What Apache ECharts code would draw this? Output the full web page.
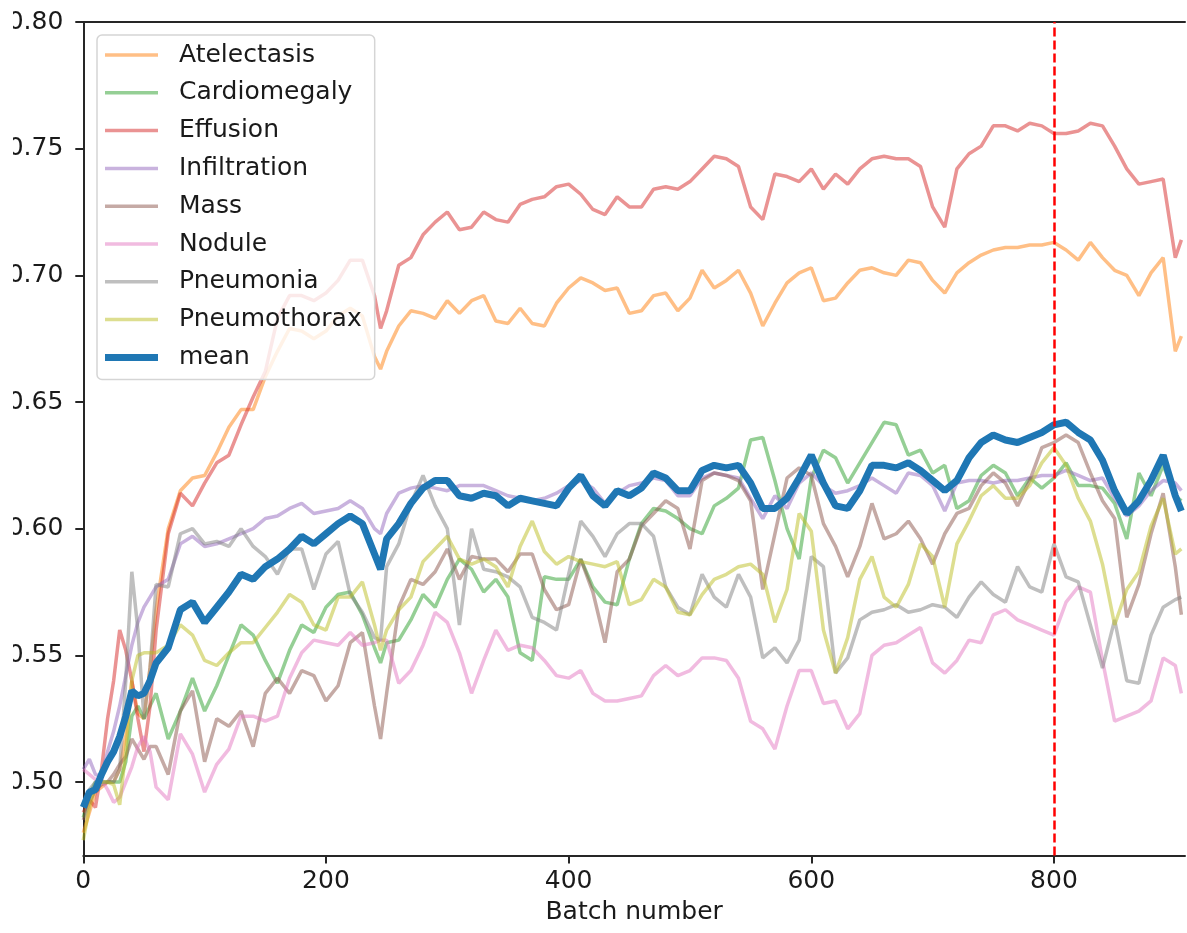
<!DOCTYPE html>
<html><head><meta charset="utf-8">
<script src="https://cdn.jsdelivr.net/npm/echarts@6/dist/echarts.min.js"></script>
<style>html,body{margin:0;padding:0;background:#fff}#c{width:1187px;height:933px}</style>
</head><body><div id="c"></div>
<script>
const batches = [0,5,10,15,20,25,30,35,40,45,50,55,60,
  70,80,90,100,110,120,130,140,150,160,170,180,190,200,210,220,230,240,245,
  250,260,270,280,290,300,310,320,330,340,350,360,370,380,390,400,410,420,430,440,450,
  460,470,480,490,500,510,520,530,540,550,560,570,580,590,600,610,620,630,640,650,
  660,670,680,690,700,710,720,730,740,750,760,770,780,790,800,810,820,830,840,850,
  860,870,880,890,900,905];

const atelectasis = [0.480,0.488,0.496,0.498,0.500,0.500,0.505,0.518,0.540,0.527,0.525,0.545,0.568,
  0.600,0.615,0.620,0.621,0.630,0.640,0.647,0.647,0.660,0.670,0.679,0.678,0.675,0.678,0.684,0.687,0.684,0.668,0.663,
  0.670,0.680,0.686,0.685,0.683,0.690,0.685,0.690,0.692,0.682,0.681,0.687,0.681,0.680,0.689,0.695,0.699,0.697,0.694,0.695,0.685,
  0.686,0.692,0.693,0.686,0.691,0.702,0.695,0.698,0.702,0.693,0.680,0.689,0.697,0.701,0.703,0.690,0.691,0.697,0.702,0.703,
  0.701,0.700,0.706,0.705,0.698,0.693,0.701,0.705,0.708,0.710,0.711,0.711,0.712,0.712,0.713,0.710,0.706,0.713,0.707,0.702,
  0.700,0.692,0.701,0.707,0.670,0.676];

const cardiomegaly = [0.486,0.495,0.500,0.500,0.500,0.500,0.500,0.508,0.526,0.530,0.525,0.530,0.535,
  0.517,0.528,0.541,0.528,0.538,0.550,0.562,0.558,0.548,0.539,0.552,0.562,0.559,0.569,0.574,0.575,0.566,0.553,0.547,
  0.555,0.556,0.564,0.574,0.569,0.580,0.588,0.584,0.575,0.580,0.573,0.551,0.548,0.581,0.580,0.580,0.588,0.577,0.571,0.570,0.588,
  0.602,0.608,0.607,0.604,0.600,0.598,0.609,0.612,0.616,0.635,0.636,0.619,0.600,0.588,0.620,0.631,0.628,0.618,0.626,0.634,
  0.642,0.641,0.629,0.631,0.622,0.625,0.608,0.611,0.621,0.625,0.622,0.613,0.620,0.616,0.620,0.626,0.617,0.617,0.616,0.610,
  0.596,0.622,0.613,0.625,0.613,0.611];

const effusion = [0.488,0.493,0.490,0.505,0.525,0.540,0.560,0.552,0.540,0.525,0.512,0.530,0.560,
  0.598,0.614,0.609,0.618,0.626,0.629,0.641,0.652,0.662,0.683,0.692,0.692,0.690,0.693,0.698,0.706,0.706,0.692,0.679,
  0.686,0.704,0.707,0.716,0.721,0.725,0.718,0.719,0.725,0.722,0.721,0.728,0.730,0.731,0.735,0.736,0.732,0.726,0.724,0.731,0.727,
  0.727,0.734,0.735,0.734,0.737,0.742,0.747,0.746,0.743,0.727,0.722,0.740,0.739,0.737,0.742,0.734,0.740,0.736,0.742,0.746,
  0.747,0.746,0.746,0.743,0.727,0.719,0.742,0.748,0.751,0.759,0.759,0.757,0.760,0.759,0.756,0.756,0.757,0.760,0.759,0.751,
  0.742,0.736,0.737,0.738,0.707,0.714];

const infiltration = [0.505,0.509,0.503,0.502,0.512,0.520,0.530,0.542,0.554,0.563,0.569,0.573,0.577,
  0.580,0.594,0.597,0.593,0.594,0.596,0.598,0.600,0.604,0.605,0.608,0.610,0.606,0.607,0.608,0.611,0.608,0.600,0.598,
  0.606,0.614,0.616,0.617,0.616,0.615,0.617,0.617,0.617,0.615,0.613,0.612,0.611,0.612,0.614,0.617,0.619,0.616,0.610,0.614,0.617,
  0.618,0.620,0.619,0.613,0.613,0.620,0.622,0.621,0.620,0.612,0.604,0.613,0.608,0.618,0.622,0.617,0.614,0.615,0.617,0.620,
  0.617,0.614,0.622,0.621,0.617,0.607,0.618,0.619,0.619,0.618,0.619,0.619,0.620,0.621,0.621,0.623,0.621,0.619,0.620,0.612,
  0.605,0.609,0.615,0.619,0.618,0.615];

const mass = [0.485,0.492,0.497,0.499,0.500,0.503,0.507,0.510,0.517,0.513,0.509,0.514,0.514,
  0.503,0.528,0.536,0.508,0.525,0.522,0.528,0.514,0.535,0.541,0.535,0.544,0.542,0.532,0.538,0.555,0.559,0.530,0.517,
  0.535,0.569,0.580,0.578,0.583,0.592,0.580,0.589,0.588,0.588,0.583,0.590,0.590,0.576,0.568,0.570,0.588,0.575,0.555,0.583,0.588,
  0.601,0.606,0.611,0.608,0.592,0.619,0.622,0.621,0.619,0.611,0.576,0.598,0.620,0.624,0.621,0.602,0.593,0.581,0.593,0.610,
  0.596,0.598,0.603,0.596,0.586,0.598,0.606,0.608,0.617,0.622,0.618,0.609,0.619,0.632,0.634,0.637,0.634,0.622,0.611,0.604,
  0.565,0.578,0.598,0.614,0.585,0.566];

const nodule = [0.505,0.503,0.501,0.501,0.497,0.492,0.494,0.500,0.506,0.514,0.518,0.512,0.498,
  0.493,0.519,0.511,0.496,0.507,0.513,0.526,0.526,0.524,0.526,0.541,0.551,0.556,0.555,0.554,0.559,0.554,0.555,0.556,
  0.556,0.539,0.544,0.554,0.567,0.563,0.551,0.535,0.548,0.560,0.552,0.554,0.553,0.548,0.542,0.541,0.544,0.535,0.532,0.532,0.533,
  0.534,0.542,0.546,0.542,0.544,0.549,0.549,0.548,0.541,0.524,0.521,0.513,0.530,0.544,0.544,0.531,0.532,0.521,0.527,0.550,
  0.554,0.555,0.558,0.561,0.547,0.543,0.548,0.556,0.555,0.566,0.568,0.564,0.562,0.560,0.558,0.571,0.577,0.575,0.548,0.524,
  0.526,0.528,0.532,0.549,0.546,0.535];

const pneumonia = [0.490,0.497,0.500,0.500,0.500,0.500,0.505,0.540,0.583,0.560,0.525,0.545,0.578,
  0.577,0.598,0.600,0.594,0.595,0.593,0.600,0.593,0.589,0.582,0.592,0.592,0.576,0.590,0.595,0.574,0.567,0.557,0.556,
  0.585,0.594,0.610,0.621,0.609,0.600,0.562,0.600,0.584,0.583,0.581,0.577,0.565,0.563,0.560,0.582,0.603,0.597,0.589,0.598,0.602,
  0.602,0.597,0.577,0.569,0.566,0.582,0.573,0.569,0.582,0.573,0.549,0.553,0.547,0.556,0.589,0.585,0.543,0.549,0.564,0.567,
  0.568,0.570,0.567,0.568,0.570,0.569,0.565,0.573,0.579,0.574,0.571,0.585,0.577,0.575,0.594,0.581,0.579,0.562,0.545,0.564,
  0.540,0.539,0.558,0.569,0.572,0.573];

const pneumothorax = [0.477,0.490,0.499,0.500,0.500,0.499,0.491,0.512,0.540,0.550,0.551,0.551,0.551,
  0.554,0.562,0.558,0.548,0.546,0.551,0.555,0.555,0.561,0.567,0.574,0.571,0.562,0.560,0.573,0.573,0.579,0.562,0.552,
  0.560,0.568,0.573,0.587,0.592,0.597,0.588,0.586,0.588,0.585,0.577,0.593,0.603,0.591,0.586,0.589,0.587,0.586,0.585,0.587,0.570,
  0.572,0.580,0.577,0.567,0.566,0.574,0.580,0.582,0.585,0.586,0.582,0.563,0.576,0.606,0.599,0.560,0.543,0.557,0.580,0.589,
  0.573,0.569,0.578,0.594,0.589,0.569,0.594,0.603,0.613,0.617,0.612,0.612,0.617,0.626,0.632,0.625,0.612,0.603,0.586,0.562,
  0.576,0.583,0.601,0.612,0.590,0.592];

const mean = [0.490,0.496,0.497,0.503,0.508,0.512,0.518,0.526,0.536,0.534,0.535,0.540,0.547,
  0.553,0.568,0.571,0.563,0.569,0.575,0.582,0.580,0.585,0.588,0.592,0.597,0.594,0.598,0.602,0.605,0.602,0.590,0.584,
  0.596,0.602,0.610,0.616,0.619,0.619,0.613,0.612,0.614,0.613,0.609,0.612,0.611,0.610,0.609,0.616,0.621,0.613,0.609,0.615,0.613,
  0.616,0.622,0.620,0.615,0.615,0.623,0.625,0.624,0.625,0.618,0.608,0.608,0.612,0.620,0.629,0.618,0.609,0.608,0.615,0.625,
  0.625,0.624,0.626,0.623,0.619,0.615,0.619,0.628,0.634,0.637,0.635,0.634,0.636,0.638,0.641,0.642,0.638,0.635,0.627,0.615,
  0.606,0.611,0.619,0.629,0.613,0.607];

const seriesNames = ['Atelectasis','Cardiomegaly','Effusion','Infiltration','Mass','Nodule','Pneumonia','Pneumothorax','mean'];
const seriesValues = [atelectasis, cardiomegaly, effusion, infiltration, mass, nodule, pneumonia, pneumothorax, mean];
const seriesColors = ['rgba(255,127,14,0.5)','rgba(44,160,44,0.5)','rgba(214,39,40,0.5)','rgba(148,103,189,0.5)',
  'rgba(140,86,75,0.5)','rgba(227,119,194,0.5)','rgba(127,127,127,0.5)','rgba(188,189,34,0.5)','#1f77b4'];
const xTicks = [0,200,400,600,800];
const yTicks = [0.50,0.55,0.60,0.65,0.70,0.75,0.80];
const markerBatch = 800;

const FONT = 'DejaVu Sans';
const TXT = '#1a1a1a';
const AX = '#262626';

const series = seriesNames.map((name, k) => ({
  name, type: 'line', xAxisIndex: 0, yAxisIndex: 0,
  data: batches.map((b, i) => [b, seriesValues[k][i]]),
  showSymbol: false, symbol: 'none', smooth: false, animation: false,
  color: seriesColors[k],
  itemStyle: { color: seriesColors[k] },
  lineStyle: { color: seriesColors[k], width: name === 'mean' ? 7 : 3.5 },
  emphasis: { disabled: true }
}));
series.push({
  name: 'marker', type: 'line', data: [], z: 5, animation: false,
  markLine: {
    silent: true, symbol: ['none','none'], animation: false,
    label: { show: false },
    lineStyle: { color: '#ff0000', width: 2.5, type: [9, 4] },
    data: [{ xAxis: markerBatch }]
  }
});

const legendData = seriesNames.map(name => ({
  name,
  icon: name === 'mean' ? 'path://M0,0H53V7H0Z' : 'path://M0,0H53V3.5H0Z'
}));

const chart = echarts.init(document.getElementById('c'), null, { renderer: 'canvas' });
chart.setOption({
  backgroundColor: '#ffffff',
  animation: false,
  grid: { left: 83.3, right: 2, top: 22, bottom: 77.5, containLabel: false, outerBoundsMode: 'none' },
  legend: {
    orient: 'vertical', left: 97, top: 35,
    data: legendData,
    itemWidth: 53, itemHeight: 14, itemGap: 9.8,
    symbolKeepAspect: true,
    itemStyle: { borderWidth: 0 },
    padding: [6, 13, 8, 8],
    backgroundColor: 'rgba(255,255,255,0.8)',
    borderColor: '#d5d5d5', borderWidth: 1.5, borderRadius: 5,
    textStyle: { fontFamily: FONT, fontSize: 25, color: TXT, lineHeight: 28, padding: [0, 0, 0, 16] },
    selectedMode: false
  },
  xAxis: [{
    type: 'value', min: 0, max: 908, position: 'bottom',
    axisLine: { show: true, onZero: false, lineStyle: { color: AX, width: 2 } },
    axisTick: { show: true, inside: false, length: 8, lineStyle: { color: AX, width: 2 }, customValues: xTicks },
    axisLabel: { show: true, customValues: xTicks, fontFamily: FONT, fontSize: 25, color: TXT, margin: 13 },
    splitLine: { show: false },
    name: 'Batch number', nameLocation: 'middle', nameGap: 44,
    nameTextStyle: { fontFamily: FONT, fontSize: 25, color: TXT }
  }, {
    type: 'value', min: 0, max: 908, position: 'top',
    axisLine: { show: true, onZero: false, lineStyle: { color: AX, width: 2 } },
    axisTick: { show: false }, axisLabel: { show: false }, splitLine: { show: false }
  }],
  yAxis: {
    type: 'value', min: 0.471, max: 0.80,
    axisLine: { show: true, onZero: false, lineStyle: { color: AX, width: 2 } },
    axisTick: { show: true, inside: false, length: 8, lineStyle: { color: AX, width: 2 }, customValues: yTicks },
    axisLabel: { show: true, customValues: yTicks, formatter: v => v.toFixed(2), fontFamily: FONT, fontSize: 25, color: TXT, margin: 20 },
    splitLine: { show: false }
  },
  graphic: [{
    type: 'rect', left: 0, top: 0, z: 100, silent: true,
    shape: { width: 13, height: 860 },
    style: { fill: '#ffffff' }
  }],
  series
});
</script></body></html>
